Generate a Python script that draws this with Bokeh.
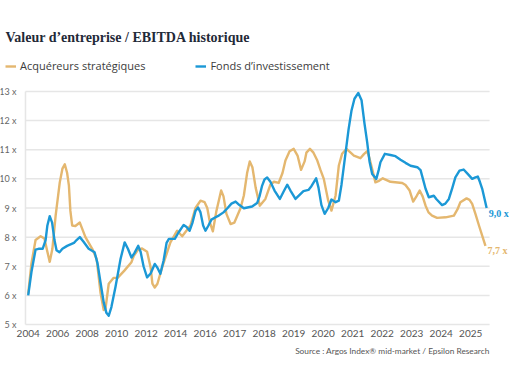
from bokeh.plotting import figure
from bokeh.models import Range1d, Label, Legend, LegendItem
from bokeh.core.properties import value
from bokeh.embed import file_html
from bokeh.resources import INLINE

# positions are in tick-index units (0 = 2004 ... 15 = 2025)
tick_labels = ["2004", "2006", "2008", "2010", "2012", "2014", "2016", "2017",
               "2018", "2019", "2020", "2021", "2022", "2023", "2024", "2025"]
y_ticks = [5, 6, 7, 8, 9, 10, 11, 12, 13]

x_acq = [0.00, 0.11, 0.25, 0.42, 0.55, 0.65, 0.73, 0.82, 0.93, 1.07, 1.16, 1.24, 1.32, 1.38,
         1.43, 1.49, 1.60, 1.75, 1.94, 2.17, 2.32, 2.45, 2.56, 2.62, 2.73, 2.89, 3.03, 3.26,
         3.50, 3.58, 3.71, 3.86, 4.03, 4.15, 4.21, 4.29, 4.38, 4.54, 4.82, 5.05, 5.22, 5.50,
         5.67, 5.84, 5.98, 6.07, 6.16, 6.26, 6.38, 6.54, 6.62, 6.72, 6.86, 6.99, 7.20, 7.31,
         7.42, 7.51, 7.60, 7.71, 7.85, 8.04, 8.21, 8.33, 8.49, 8.62, 8.72, 8.86, 9.00, 9.13,
         9.25, 9.37, 9.43, 9.55, 9.67, 9.80, 9.91, 10.02, 10.17, 10.28, 10.42, 10.53, 10.64,
         10.79, 10.93, 11.04, 11.26, 11.38, 11.49, 11.57, 11.66, 11.77, 11.87, 12.02, 12.28,
         12.68, 12.79, 12.93, 13.05, 13.16, 13.27, 13.37, 13.47, 13.57, 13.69, 13.86, 14.15,
         14.43, 14.55, 14.65, 14.86, 14.96, 15.05, 15.16, 15.28, 15.50]
y_acq = [6.05, 7.1, 7.9, 8.03, 7.95, 7.5, 7.15, 7.6, 8.74, 9.88, 10.35, 10.5, 10.2, 9.77,
         8.9, 8.4, 8.38, 8.5, 8.0, 7.6, 7.25, 6.1, 5.5, 5.55, 6.4, 6.6, 6.6, 6.85,
         7.14, 7.36, 7.55, 7.61, 7.5, 6.96, 6.4, 6.27, 6.4, 6.96, 7.82, 8.22, 8.03, 8.4,
         9.0, 9.25, 9.2, 9.0, 8.5, 8.2, 8.9, 9.6, 9.4, 8.8, 8.45, 8.5, 9.0, 9.43,
         10.2, 10.6, 10.4, 9.7, 9.08, 9.31, 9.8, 9.9, 9.86, 10.2, 10.63, 10.95, 11.03, 10.8,
         10.31, 10.6, 10.9, 11.03, 10.9, 10.63, 10.3, 10.0, 9.25, 8.91, 9.43, 10.46, 10.86,
         11.03, 10.9, 10.8, 10.71, 10.85, 10.95, 10.7, 10.34, 9.88, 9.92, 10.02, 9.9,
         9.86, 9.79, 9.6, 9.22, 9.4, 9.6, 9.4, 9.08, 8.85, 8.74, 8.66, 8.68,
         8.74, 8.95, 9.2, 9.33, 9.28, 9.14, 8.8, 8.4, 7.7]

x_fonds = [0.00, 0.11, 0.25, 0.35, 0.49, 0.59, 0.65, 0.73, 0.81, 0.89, 0.96, 1.06, 1.16, 1.32,
           1.55, 1.64, 1.75, 1.87, 2.05, 2.25, 2.35, 2.45, 2.56, 2.65, 2.73, 2.82, 2.96, 3.13,
           3.27, 3.38, 3.50, 3.60, 3.73, 3.81, 3.91, 4.03, 4.15, 4.29, 4.38, 4.48, 4.59, 4.69,
           4.77, 4.97, 5.09, 5.27, 5.37, 5.47, 5.57, 5.67, 5.76, 5.84, 5.93, 6.01, 6.11, 6.21,
           6.35, 6.46, 6.62, 6.76, 6.89, 7.03, 7.16, 7.31, 7.59, 7.76, 7.84, 7.93, 8.01, 8.10,
           8.21, 8.35, 8.53, 8.65, 8.78, 8.89, 9.06, 9.20, 9.33, 9.50, 9.60, 9.76, 9.84, 9.94,
           10.05, 10.17, 10.28, 10.42, 10.53, 10.62, 10.76, 10.86, 10.96, 11.06, 11.19, 11.30,
           11.40, 11.49, 11.57, 11.66, 11.80, 11.88, 11.94, 12.09, 12.28, 12.45, 12.62, 12.79,
           12.96, 13.19, 13.30, 13.38, 13.47, 13.58, 13.75, 13.84, 14.03, 14.14, 14.26, 14.38,
           14.48, 14.62, 14.76, 14.89, 15.05, 15.16, 15.24, 15.31, 15.39, 15.54]
y_fonds = [6.0, 6.8, 7.57, 7.6, 7.6, 7.9, 8.4, 8.72, 8.5, 7.9, 7.55, 7.48, 7.6, 7.7,
           7.8, 7.9, 8.0, 7.85, 7.6, 7.48, 7.1, 6.45, 5.76, 5.4, 5.3, 5.6, 6.3, 7.25,
           7.82, 7.6, 7.3, 7.45, 7.7, 7.5, 7.0, 6.62, 6.75, 7.08, 6.95, 6.74, 7.2, 7.8,
           7.94, 7.94, 8.15, 8.42, 8.35, 8.22, 8.5, 8.9, 9.02, 8.85, 8.4, 8.22, 8.4, 8.6,
           8.68, 8.74, 8.85, 9.0, 9.15, 9.22, 9.1, 8.99, 9.05, 9.17, 9.4, 9.77, 9.98, 10.05,
           9.9, 9.6, 9.31, 9.55, 9.8, 9.6, 9.31, 9.45, 9.58, 9.62, 9.75, 10.02, 9.7, 9.1,
           8.8, 9.0, 9.29, 9.2, 9.25, 9.8, 10.91, 11.7, 12.35, 12.75, 12.95, 12.7,
           11.9, 11.26, 10.6, 10.17, 10.0, 10.3, 10.57, 10.86, 10.82, 10.78, 10.66, 10.55,
           10.45, 10.4, 10.3, 10.0, 9.66, 9.37, 9.42, 9.3, 9.1, 9.15, 9.31, 9.7,
           10.05, 10.28, 10.32, 10.18, 10.0, 10.05, 10.08, 9.9, 9.66, 9.0]

ORANGE = "#E4B76F"
BLUE = "#1B98D6"
GRID = "#e6e6e6"
FONT = "Lato"
LEG_FONT = "Open Sans"
SERIF = "Liberation Serif"

W, H = 509, 379
grid_start, grid_end = -0.092, 15.64
y_lo, y_hi = y_ticks[0], y_ticks[-1]

p = figure(width=W, height=H, output_backend="svg", toolbar_location=None,
           x_axis_location=None, y_axis_location=None,
           x_range=Range1d(-0.939, 16.315), y_range=Range1d(3.112, 16.124),
           min_border=0)
p.outline_line_color = None
p.grid.visible = False

# horizontal gridlines at tick values, vertical left axis line
n = len(y_ticks)
p.segment(x0=[grid_start] * n, y0=y_ticks, x1=[grid_end] * n, y1=y_ticks,
          line_color=GRID, line_width=1.5)
p.segment(x0=[grid_start], y0=[y_lo], x1=[grid_start], y1=[y_hi],
          line_color=GRID, line_width=1.5)

# tick labels
p.text(x=[grid_start] * n, y=y_ticks, text=[f"{v} x" for v in y_ticks],
       x_offset=-9, text_align="right", text_baseline="middle",
       text_font=value(FONT), text_font_size="9px", text_color="#666666")
p.text(x=list(range(len(tick_labels))), y=[y_lo] * len(tick_labels), text=tick_labels,
       y_offset=9, text_align="center", text_baseline="middle",
       text_font=value(FONT), text_font_size="10px", text_color="#555555")

r1 = p.line(x_acq, y_acq, line_color=ORANGE, line_width=2.4, line_join="round")
r2 = p.line(x_fonds, y_fonds, line_color=BLUE, line_width=2.4, line_join="round")

# end values
for xs, ys, col in [(x_fonds, y_fonds, BLUE), (x_acq, y_acq, ORANGE)]:
    p.text(x=[xs[-1]], y=[ys[-1]], text=[f"{ys[-1]:.1f}".replace(".", ",") + " x"],
           x_offset=2, y_offset=5, text_align="left", text_baseline="middle",
           text_font=value(SERIF), text_font_style="bold", text_font_size="10px",
           text_color=col)

legend = Legend(items=[LegendItem(label="Acquéreurs stratégiques", renderers=[r1]),
                       LegendItem(label="Fonds d’investissement", renderers=[r2])],
                orientation="horizontal", location=(5, H - 73),
                border_line_color=None, background_fill_alpha=0, padding=0, margin=0,
                spacing=50, glyph_width=11, glyph_height=12, label_height=12,
                label_standoff=4, label_text_font=LEG_FONT, label_text_font_size="11px",
                label_text_color="#3c3c3c")
p.add_layout(legend, "center")

p.add_layout(Label(x=5, y=H - 37, x_units="screen", y_units="screen",
                   text="Valeur d’entreprise / EBITDA historique",
                   text_font=SERIF, text_font_style="bold",
                   text_font_size="14px", text_color="#1f2a38", text_baseline="middle"))

p.add_layout(Label(x=grid_end, y=H - 350, x_units="data", y_units="screen",
                   text="Source : Argos Index® mid-market / Epsilon Research",
                   text_font=FONT, text_font_size="8.3px", text_color="#555555",
                   text_align="right", text_baseline="middle"))

open("out.html", "w").write(file_html(p, INLINE))
